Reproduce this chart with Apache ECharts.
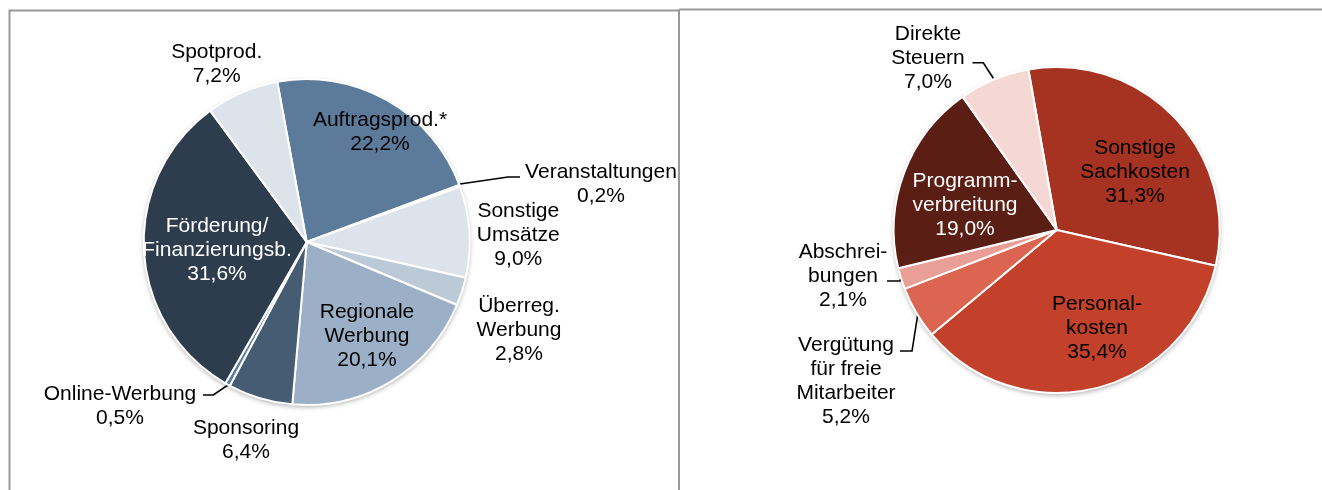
<!DOCTYPE html>
<html>
<head>
<meta charset="utf-8">
<script src="https://cdn.jsdelivr.net/npm/echarts@6/dist/echarts.min.js"></script>
<style>
  html, body { margin: 0; padding: 0; background: #ffffff; }
  #chart { width: 1322px; height: 490px; }
</style>
</head>
<body>
<div id="chart"></div>
<script>
// ---- Data ----
const leftNames = ['Auftragsprod.*', 'Veranstaltungen', 'Sonstige\nUmsätze', 'Überreg.\nWerbung', 'Regionale\nWerbung', 'Sponsoring', 'Online-Werbung', 'Förderung/\nFinanzierungsb.', 'Spotprod.'];
const leftValues = [22.2, 0.2, 9.0, 2.8, 20.1, 6.4, 0.5, 31.6, 7.2];

const rightNames = ['Sonstige\nSachkosten', 'Personal-\nkosten', 'Vergütung\nfür freie\nMitarbeiter', 'Abschrei-\nbungen', 'Programm-\nverbreitung', 'Direkte\nSteuern'];
const rightValues = [31.3, 35.4, 5.2, 2.1, 19.0, 7.0];

// ---- Styles ----
const leftColors = ['#5c7a99', '#7f97b0', '#dde3eb', '#bcc9d6', '#9bb0c6', '#465c73', '#5b7da0', '#2e3d4e', '#dde3eb'];
const leftTextColors = ['#000', '#000', '#000', '#000', '#000', '#000', '#000', '#fff', '#000'];
const leftInside = [true, false, false, false, true, false, false, true, false];

const rightColors = ['#a63222', '#c3402b', '#dc6552', '#ea9f96', '#5a1e14', '#f5d8d4'];
const rightTextColors = ['#000', '#000', '#000', '#000', '#fff', '#000'];
const rightInside = [true, true, false, false, true, false];

// ---- Label layout (text block centres and leader lines) ----
const leftLabelLayout = [
  { x: 380, y: 132.5 },
  { x: 601, y: 184.7, line: [[460, 184], [508, 177], [520, 177]] },
  { x: 518.3, y: 235 },
  { x: 519, y: 330 },
  { x: 367, y: 336.7 },
  { x: 246, y: 440 },
  { x: 120, y: 406.7, line: [[228, 385], [213.3, 395], [203, 395]] },
  { x: 217, y: 250 },
  { x: 216.7, y: 64 }
];
const rightLabelLayout = [
  { x: 1135, y: 172.5 },
  { x: 1097, y: 328.3 },
  { x: 846, y: 381, line: [[918, 313], [912, 351], [900, 351]] },
  { x: 843, y: 276, line: [[902, 275], [900, 281], [887, 281]] },
  { x: 965, y: 205.5 },
  { x: 928, y: 58.3, line: [[993.3, 78.3], [983.3, 62.7], [972.5, 62.7]] }
];

const FONT = '"Liberation Sans", Arial, Helvetica, sans-serif';
const fmt = v => v.toFixed(1).replace('.', ',') + '%';

function buildData(names, values, colors, textColors, inside, layout) {
  return names.map((n, i) => ({
    name: n,
    value: values[i],
    itemStyle: { color: colors[i] },
    label: {
      position: inside[i] ? 'inside' : 'outside',
      color: textColors[i]
    },
    labelLine: { show: !!layout[i].line }
  }));
}

function makeLayout(layout) {
  return function (params) {
    const p = layout[params.dataIndex];
    const r = { x: p.x, y: p.y, align: 'center', verticalAlign: 'middle' };
    if (p.line) r.labelLinePoints = p.line;
    return r;
  };
}

const common = {
  type: 'pie',
  clockwise: true,
  avoidLabelOverlap: false,
  animation: false,
  itemStyle: { borderColor: '#ffffff', borderWidth: 2 },
  label: {
    show: true,
    fontFamily: FONT,
    fontSize: 21,
    lineHeight: 24,
    align: 'center',
    formatter: p => p.name + '\n' + fmt(p.value)
  },
  labelLine: { show: false, smooth: false, lineStyle: { color: '#000', width: 1.6 } },
  emphasis: { disabled: true }
};

function bgPie(center) {
  return {
    type: 'pie', center: center, radius: 163, silent: true, animation: false, z: 1,
    label: { show: false }, labelLine: { show: false },
    itemStyle: { color: '#ffffff', shadowBlur: 5, shadowOffsetY: 2, shadowColor: 'rgba(0,0,0,0.35)' },
    data: [{ value: 1 }]
  };
}

const chart = echarts.init(document.getElementById('chart'), null, { renderer: 'canvas' });
chart.setOption({
  backgroundColor: '#ffffff',
  graphic: [
    { type: 'polyline', shape: { points: [[9.5, 490], [9.5, 10.5], [679, 10.5]] }, style: { stroke: '#999', lineWidth: 2, fill: null } },
    { type: 'line', shape: { x1: 679, y1: 9.5, x2: 679, y2: 490 }, style: { stroke: '#999', lineWidth: 2 } },
    { type: 'line', shape: { x1: 679, y1: 9.5, x2: 1322, y2: 9.5 }, style: { stroke: '#999', lineWidth: 2 } }
  ],
  series: [
    bgPie([306.7, 242]),
    bgPie([1056.7, 230]),
    Object.assign({}, common, {
      z: 2,
      center: [306.7, 242], radius: 163, startAngle: 100.4,
      labelLayout: makeLayout(leftLabelLayout),
      data: buildData(leftNames, leftValues, leftColors, leftTextColors, leftInside, leftLabelLayout)
    }),
    Object.assign({}, common, {
      z: 2,
      center: [1056.7, 230], radius: 163, startAngle: 100,
      labelLayout: makeLayout(rightLabelLayout),
      data: buildData(rightNames, rightValues, rightColors, rightTextColors, rightInside, rightLabelLayout)
    })
  ]
});
</script>
</body>
</html>
